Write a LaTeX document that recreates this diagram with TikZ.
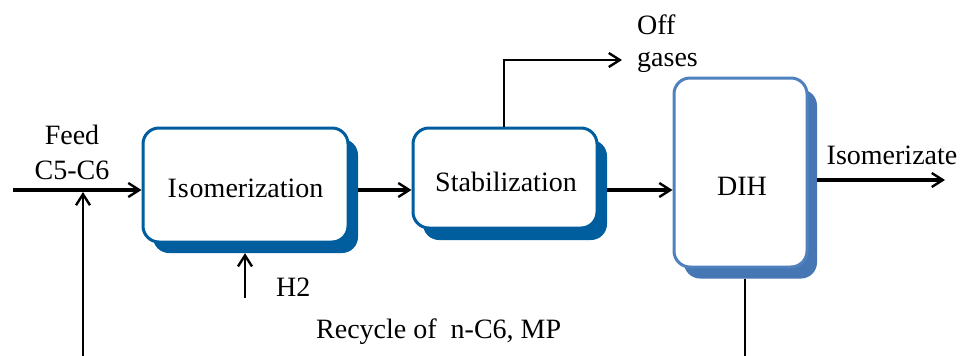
\documentclass[tikz,border=0pt]{standalone}
\usepackage{fontspec}
\setmainfont{Liberation Serif}
\newfontfamily\labelfont{Liberation Serif}
\usetikzlibrary{arrows.meta,calc}
\definecolor{unitblue}{RGB}{0,94,158}
\definecolor{dihblue}{RGB}{79,129,189}
\definecolor{dihshade}{RGB}{70,118,180}
\tikzset{
  flow/.style={line width=3.2pt,-{Straight Barb[length=11pt,width=14pt,line width=2.4pt]}},
  thin flow/.style={line width=2.4pt,-{Straight Barb[length=11pt,width=14pt,line width=2.4pt]}},
  pipe/.style={line width=2.4pt},
  unit/.style={draw=#1,line width=3pt,fill=white,rounded corners=16pt,inner sep=0pt},
  shade/.style={fill=#1,draw=none,rounded corners=16pt,inner sep=0pt},
  lbl/.style={inner sep=0pt,font=\labelfont\fontsize{28}{31}\selectfont}
}
\begin{document}
\begin{tikzpicture}[x=1pt,y=-1pt]
\useasboundingbox (0,0) rectangle (961,356);
% process units: shadow first, then the white box on top
\node[shade=unitblue,minimum width=205pt,minimum height=114pt] (isoS) at (255.5,196) {};
\node[unit=unitblue,minimum width=205pt,minimum height=114pt] (iso) at (245.5,185) {};
\node[lbl] at (245.5,188) {I\kern1pt s\kern1pt omerization};
\node[shade=unitblue,minimum width=184pt,minimum height=100pt] (stabS) at (515,190) {};
\node[unit=unitblue,minimum width=184pt,minimum height=100pt] (stab) at (505,178) {};
\node[lbl] at (506,182) {Stabilization};
\node[shade=dihshade,minimum width=133pt,minimum height=189pt] (dihS) at (750.5,184) {};
\node[unit=dihblue,minimum width=133pt,minimum height=189pt] (dih) at (740.5,172.5) {};
\node[lbl] at (742,186) {DIH};

% stream end points
\coordinate (feedin) at (13,190);
\coordinate (rcl) at (83,356);
\coordinate (rcr) at (745,356);
\coordinate (h2in) at (245,298);
\coordinate (offend) at (622,60);
\coordinate (prodend) at (945,180);

% streams
\draw[flow] (feedin) -- (feedin -| iso.west);
\draw[thin flow] (rcl) -- ($(rcl |- feedin)+(0,2)$);
\draw[thin flow] (h2in) -- (h2in |- isoS.south);
\draw[flow] (isoS.east |- 0,190) -- (stab.west |- 0,190);
\draw[flow] (stabS.east |- 0,190) -- (dih.west |- 0,190);
\draw[thin flow] (stab.north -| 504,0) |- (offend);
\draw[flow] (dihS.east |- prodend) -- (prodend);
\draw[pipe] (dihS.south -| rcr) -- (rcr);

% labels
\node[lbl] at (72,135) {Feed};
\node[lbl] at (72,170) {C5-C6};
\node[lbl,anchor=west] at (276,287) {H2};
\node[lbl,anchor=west] at (637,25) {Off};
\node[lbl,anchor=west] at (637,62) {gases};
\node[lbl] at (892,155) {Isomerizate};
\node[lbl,anchor=west] at (316,332) {Recycle of\ \ n-C6, MP};
\end{tikzpicture}
\end{document}
